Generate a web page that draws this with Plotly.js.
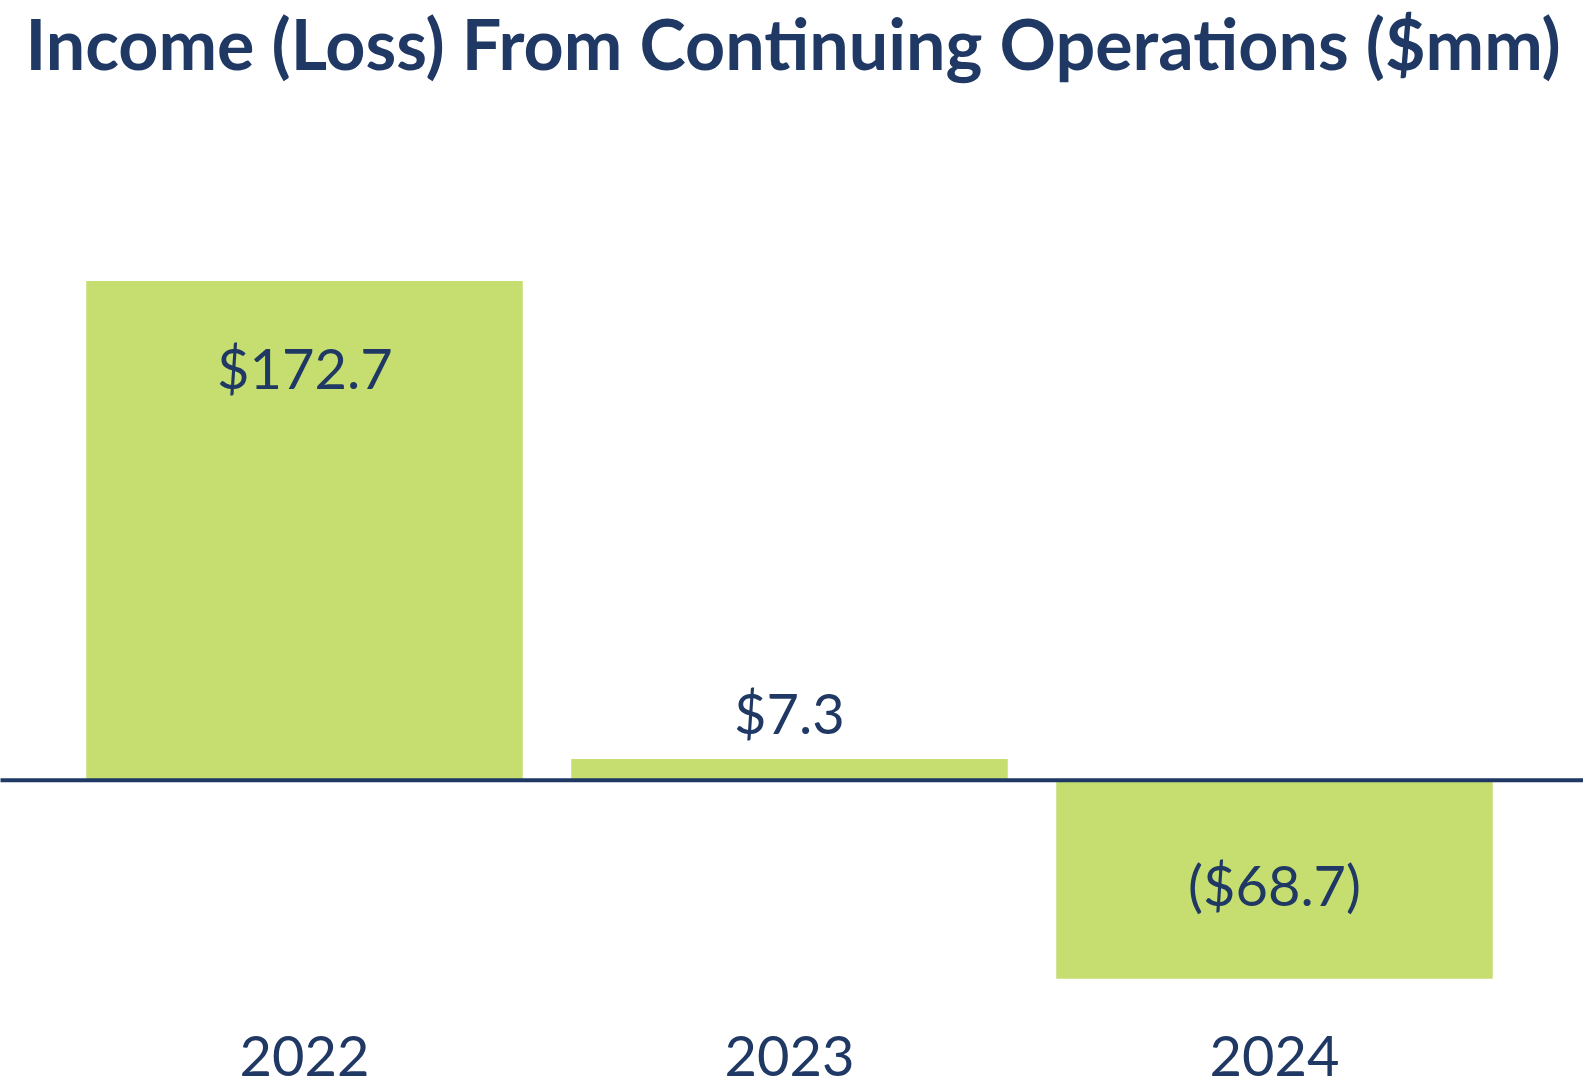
<!DOCTYPE html>
<html>
<head>
<meta charset="utf-8">
<script src="https://cdn.plot.ly/plotly-3.0.1.min.js"></script>
<style>
  html, body { margin: 0; padding: 0; background: #ffffff; }
  #chart { width: 1583px; height: 1091px; }
</style>
</head>
<body>
<div id="chart"></div>
<script>
// ---- data ----
const years = ['2022', '2023', '2024'];
const incomeMm = [172.7, 7.3, -68.7];
const chartTitle = 'Income (Loss) From Continuing Operations ($mm)';

// ---- styling ----
const NAVY = '#1F3864';
const GREEN = '#C5DE6F';
const FONT = 'Lato, "Open Sans", sans-serif';
const labelShift = [-87, 47, 94];

function fmt(v) {
  return v >= 0 ? '$' + v.toFixed(1) : '($' + Math.abs(v).toFixed(1) + ')';
}

const W = 1583, H = 1091;
const mL = 61.5, mR = 66, mT = 202, mB = 94.25;
const plotW = W - mL - mR;

const trace = {
  type: 'bar',
  x: years,
  y: incomeMm,
  marker: { color: GREEN, line: { width: 0 } },
  hoverinfo: 'none',
  cliponaxis: false
};

const annotations = years.map((yr, i) => ({
  x: i,
  y: incomeMm[i],
  xref: 'x',
  yref: 'y',
  text: fmt(incomeMm[i]),
  showarrow: false,
  xanchor: 'center',
  yanchor: 'middle',
  yshift: labelShift[i],
  font: { family: FONT, size: 56, color: NAVY }
}));

const layout = {
  width: W,
  height: H,
  margin: { l: mL, r: mR, t: mT, b: mB, pad: 0 },
  paper_bgcolor: '#ffffff',
  plot_bgcolor: '#ffffff',
  showlegend: false,
  bargap: 0.1,
  title: {
    text: '<b>' + chartTitle + '</b>',
    font: { family: FONT, size: 70, color: NAVY },
    x: 0.5025,
    xanchor: 'center',
    xref: 'paper',
    yref: 'container',
    y: 1 - 45 / H,
    yanchor: 'middle'
  },
  xaxis: {
    type: 'category',
    categoryorder: 'array',
    categoryarray: years,
    range: [-0.5, years.length - 0.5],
    autorange: false,
    showgrid: false,
    zeroline: false,
    showline: false,
    ticks: '',
    tickfont: { family: FONT, size: 56, color: NAVY },
    ticklabelstandoff: 22
  },
  yaxis: {
    range: [-75, 200],
    autorange: false,
    showgrid: false,
    zeroline: false,
    showline: false,
    showticklabels: false,
    ticks: ''
  },
  shapes: [{
    type: 'line',
    xref: 'paper',
    yref: 'y',
    x0: -mL / plotW,
    x1: (W - mL) / plotW,
    y0: 0,
    y1: 0,
    line: { color: NAVY, width: 4 },
    layer: 'above'
  }],
  annotations: annotations
};

Plotly.newPlot('chart', [trace], layout, { displayModeBar: false, staticPlot: true });
</script>
</body>
</html>
